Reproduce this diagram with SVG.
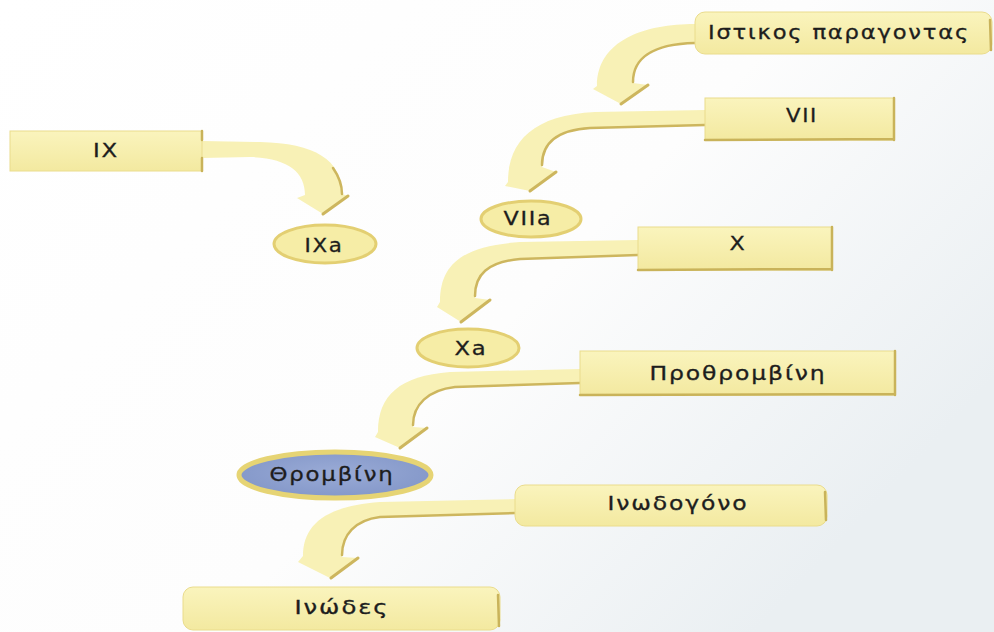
<svg xmlns="http://www.w3.org/2000/svg" width="994" height="632" viewBox="0 0 994 632">
<defs>
<linearGradient id="bg" x1="0" y1="0" x2="1" y2="0.6">
<stop offset="0" stop-color="#ffffff"/>
<stop offset="0.6" stop-color="#fdfdfd"/>
<stop offset="1" stop-color="#eaeff2"/>
</linearGradient>
<linearGradient id="boxg" x1="0" y1="0" x2="0" y2="1">
<stop offset="0" stop-color="#faf4bd"/>
<stop offset="1" stop-color="#f3e9a0"/>
</linearGradient>
<radialGradient id="blue" cx="0.5" cy="0.45" r="0.6">
<stop offset="0" stop-color="#9aabd6"/>
<stop offset="1" stop-color="#8296c8"/>
</radialGradient>
</defs>
<style>
.box{fill:url(#boxg);stroke:#eadc8c;stroke-width:1}
.edge{fill:none;stroke:#c9b35a;stroke-width:2.5;stroke-linecap:round}
.ell{fill:#f6eda6;stroke:#e3cf72;stroke-width:3}
.band{fill:#f8f1b6;stroke:none}
.inner{fill:none;stroke:#cdb65e;stroke-width:2.5;stroke-linecap:round}
.slant{fill:none;stroke:#cdb65e;stroke-width:3;stroke-linecap:round}
.t{font-family:"DejaVu Sans","Noto Sans",sans-serif;font-size:19px;letter-spacing:1.5px;fill:#1d1d1d;stroke:#1d1d1d;stroke-width:0.3;text-anchor:middle}
</style>
<rect x="0" y="0" width="994" height="632" fill="url(#bg)"/>

<g id="connectors">
<g id="arrow-tf-vii">
<path class="band" d="M 695,24 C 645,24 597,40 597,86 L 593,89 L 621,104 L 648,85 L 633,83 C 633,60 650,44 695,43 Z"/>
<path class="inner" d="M 695,43 C 650,44 633,60 633,82"/>
<path class="slant" d="M 648,85 L 621,104"/>
</g>
<g id="arrow-vii-viia">
<path class="band" d="M 705,110 L 595,112 C 535,115 508,140 508,182 L 505,186 L 530,191 L 556,172 L 542,167 C 542,142 558,130 590,128 L 705,125 Z"/>
<path class="inner" d="M 705,125 L 590,128 C 558,130 542,142 542,165"/>
<path class="slant" d="M 556,172 L 530,191"/>
</g>
<g id="arrow-ix-ixa">
<path class="band" d="M 202,141 L 260,142 C 315,143 342,160 342,194 L 348,196 L 323,214 L 297,198 L 305,195 C 305,172 288,158 250,157 L 202,158 Z"/>
<path class="inner" d="M 333,168 C 340,178 342,186 342,194"/>
<path class="slant" d="M 348,196 L 323,214"/>
</g>
<g id="arrow-x-xa">
<path class="band" d="M 638,240 L 520,242 C 465,246 440,262 440,302 L 437,307 L 461,322 L 490,300 L 475,298 C 475,275 487,262 520,259 L 638,255 Z"/>
<path class="inner" d="M 638,255 L 520,259 C 487,262 475,275 475,296"/>
<path class="slant" d="M 490,300 L 461,322"/>
</g>
<g id="arrow-pro-thr">
<path class="band" d="M 580,369 L 450,372 C 400,376 378,395 378,432 L 375,437 L 400,448 L 427,428 L 413,427 C 413,405 425,390 455,387 L 580,383 Z"/>
<path class="inner" d="M 580,383 L 455,387 C 428,390 413,405 413,425"/>
<path class="slant" d="M 427,428 L 400,448"/>
</g>
<g id="arrow-fib-inw">
<path class="band" d="M 516,499 L 380,502 C 325,506 303,525 303,556 L 298,562 L 330,578 L 358,558 L 342,557 C 342,535 352,520 380,517 L 516,513 Z"/>
<path class="inner" d="M 516,513 L 380,517 C 355,520 342,535 342,555"/>
<path class="slant" d="M 358,558 L 331,578"/>
</g>
</g>

<g id="node-tissue-factor">
<rect class="box" x="695" y="12" width="297" height="42" rx="10"/>
<path class="edge" d="M 990,20 L 991,50"/>
<text class="t" x="839" y="39" textLength="262" lengthAdjust="spacingAndGlyphs">Ιστικος παραγοντας</text>
</g>

<g id="node-vii">
<rect class="box" x="705" y="98" width="189" height="42"/>
<path class="edge" d="M 894,98 L 894,140 M 705,140 L 894,139"/>
<text class="t" x="802" y="122" textLength="32" lengthAdjust="spacingAndGlyphs">VII</text>
</g>

<g id="node-ix">
<rect class="box" x="10" y="131" width="192" height="40"/>
<path class="edge" d="M 202,131 L 202,140 M 202,158 L 202,171"/>
<text class="t" x="106" y="157" textLength="26" lengthAdjust="spacingAndGlyphs">IX</text>
</g>

<g id="node-ixa">
<ellipse class="ell" cx="325" cy="244" rx="51" ry="19"/>
<text class="t" x="324" y="252" textLength="39" lengthAdjust="spacingAndGlyphs">IXa</text>
</g>

<g id="node-viia">
<ellipse class="ell" cx="531" cy="219" rx="50" ry="18"/>
<text class="t" x="528" y="225" textLength="49" lengthAdjust="spacingAndGlyphs">VIIa</text>
</g>

<g id="node-x">
<rect class="box" x="638" y="227" width="194" height="43"/>
<path class="edge" d="M 832,227 L 832,270 M 638,270 L 832,269"/>
<text class="t" x="738" y="250" textLength="17" lengthAdjust="spacingAndGlyphs">X</text>
</g>

<g id="node-xa">
<ellipse class="ell" cx="468" cy="348" rx="51" ry="19"/>
<text class="t" x="471" y="355" textLength="33" lengthAdjust="spacingAndGlyphs">Xa</text>
</g>

<g id="node-prothrombin">
<rect class="box" x="580" y="351" width="315" height="44"/>
<path class="edge" d="M 895,351 L 895,395 M 580,395 L 895,394"/>
<text class="t" x="738" y="380" textLength="177" lengthAdjust="spacingAndGlyphs">Προθρομβίνη</text>
</g>

<g id="node-thrombin">
<ellipse cx="335" cy="475" rx="96" ry="23" fill="url(#blue)" stroke="#e6d474" stroke-width="5"/>
<text class="t" x="332" y="481" textLength="125" lengthAdjust="spacingAndGlyphs">Θρομβίνη</text>
</g>

<g id="node-fibrinogen">
<rect class="box" x="515" y="485" width="312" height="41" rx="10"/>
<path class="edge" d="M 825,492 L 826,520"/>
<text class="t" x="678" y="510" textLength="141" lengthAdjust="spacingAndGlyphs">Ινωδογόνο</text>
</g>

<g id="node-fibrin">
<rect class="box" x="183" y="587" width="317" height="43" rx="10"/>
<path class="edge" d="M 498,595 L 499,626"/>
<text class="t" x="342" y="614" textLength="95" lengthAdjust="spacingAndGlyphs">Ινώδες</text>
</g>
</svg>
